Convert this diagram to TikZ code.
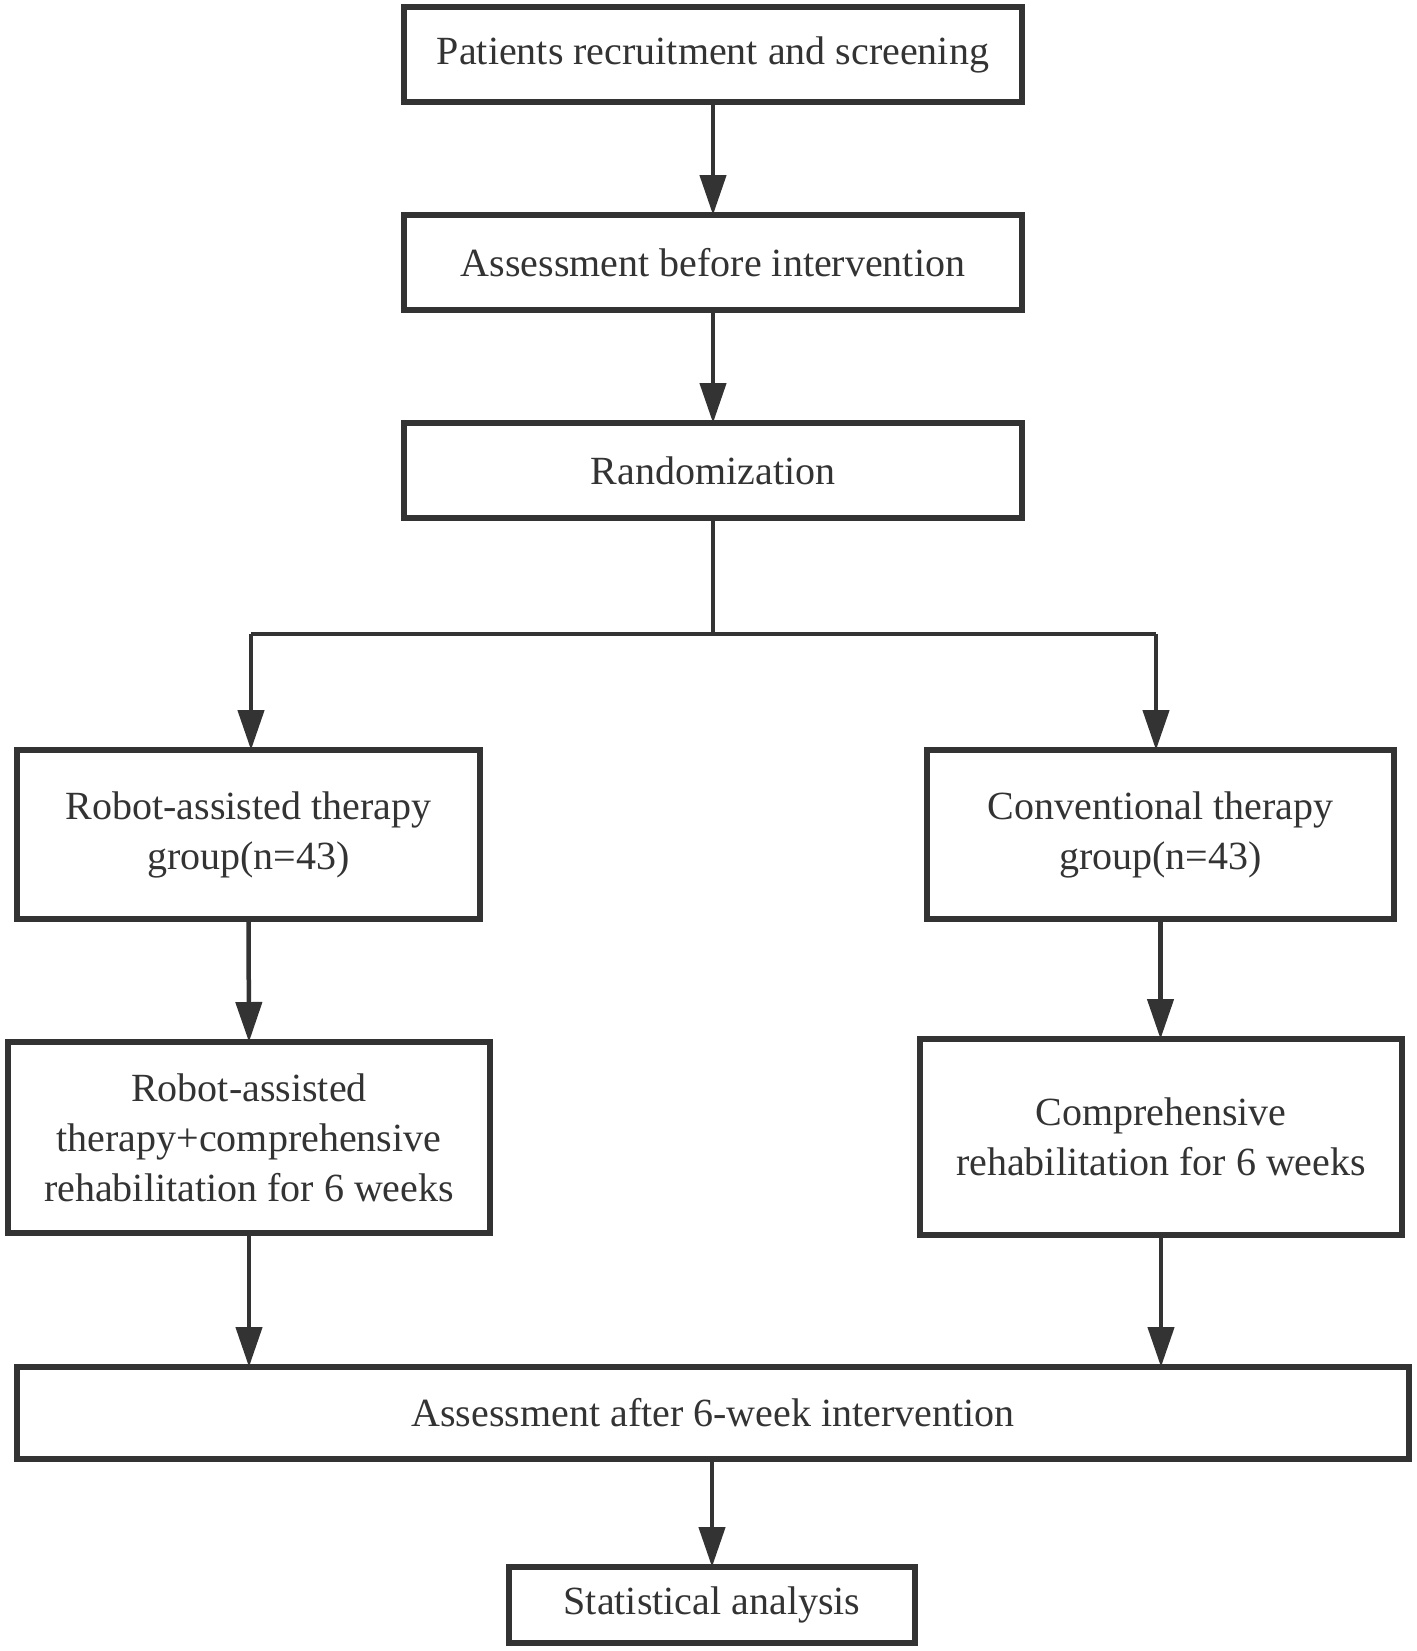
\documentclass[tikz,border=0pt]{standalone}
\usepackage{fontspec}
\setmainfont{Liberation Serif}
\usetikzlibrary{arrows.meta}
\definecolor{ink}{HTML}{333333}
\begin{document}
\begin{tikzpicture}[x=1pt,y=-1pt,
  box/.style={draw=ink, line width=6pt, rectangle, inner sep=0pt, outer sep=0pt, align=center,
    text=ink, font=\fontsize{40}{50}\selectfont},
  conn/.style={draw=ink, line width=4.5pt},
  arr/.style={conn, -{Triangle[length=40pt,width=26pt]}}]
\useasboundingbox (0,0) rectangle (1416,1651);
\node[box, minimum width=618, minimum height=95] (b1) at (713,54.5) {Patients recruitment and screening};
\node[box, minimum width=618, minimum height=95] (b2) at (713,262.5) {Assessment before intervention};
\node[box, minimum width=618, minimum height=95] (b3) at (713,470.5) {Randomization};
\node[box, minimum width=463, minimum height=169] (l1) at (248.5,834.5) {Robot-assisted therapy\\group(n=43)};
\node[box, minimum width=467, minimum height=169] (r1) at (1160.5,834.5) {Conventional therapy\\group(n=43)};
\node[box, minimum width=482, minimum height=191] (l2) at (249,1137.5) {Robot-assisted\\therapy+comprehensive\\rehabilitation for 6 weeks};
\node[box, minimum width=482, minimum height=196] (r2) at (1161,1137) {Comprehensive\\rehabilitation for 6 weeks};
\node[box, minimum width=1392, minimum height=92] (bt) at (713,1413) {Assessment after 6-week intervention};
\node[box, minimum width=406, minimum height=76] (st) at (712,1605) {Statistical analysis};
\coordinate (j) at (713,634);
\coordinate (jl) at (251,634);
\coordinate (jr) at (1156,634);
\draw[arr] (b1.south) -- (b2.north);
\draw[arr] (b2.south) -- (b3.north);
\draw[conn] (b3.south) -- (j);
\draw[conn, line cap=square] (jl) -- (jr);
\draw[arr] (jl) -- (jl |- l1.north);
\draw[arr] (jr) -- (jr |- r1.north);
\draw[arr] (l1.south) -- (l2.north);
\draw[arr] (r1.south) -- (r1.south |- r2.north);
\draw[arr] (l2.south) -- (l2.south |- bt.north);
\draw[arr] (r2.south) -- (r2.south |- bt.north);
\draw[arr] (bt.south -| st.north) -- (st.north);
\end{tikzpicture}
\end{document}
